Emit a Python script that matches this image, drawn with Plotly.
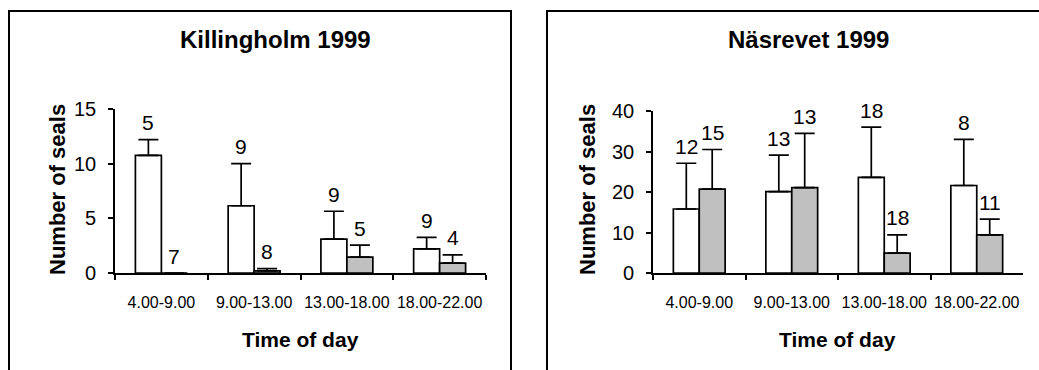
import plotly.graph_objects as go

# ---------------- data ----------------
categories = ["4.00-9.00", "9.00-13.00", "13.00-18.00", "18.00-22.00"]

kill_white = [10.75, 6.15, 3.1, 2.2]
kill_white_err = [1.45, 3.85, 2.55, 1.05]
kill_gray = [0.0, 0.2, 1.45, 0.9]
kill_gray_err = [0.0, 0.2, 1.1, 0.75]
kill_white_n = [5, 9, 9, 9]
kill_gray_n = [7, 8, 5, 4]

nas_white = [15.8, 20.1, 23.6, 21.6]
nas_white_err = [11.3, 9.0, 12.4, 11.4]
nas_gray = [20.7, 21.1, 4.9, 9.4]
nas_gray_err = [9.8, 13.4, 4.5, 3.9]
nas_white_n = [12, 13, 18, 8]
nas_gray_n = [15, 13, 18, 11]

titles = ["Killingholm 1999", "Näsrevet 1999"]
y_title = "Number of seals"
x_title = "Time of day"

# ---------------- layout helpers ----------------
W, H = 1039, 370
FONT = "Arial, Liberation Sans, sans-serif"
GRAY = "#c0c0c0"


def px(x):
    return x / W


def py(y):
    return 1 - y / H


BARGAP = 0.44
HALF = (1 - BARGAP) / 4  # offset of each bar centre from category centre

fig = go.Figure()

panels = [
    dict(xa="x", ya="y", white=kill_white, werr=kill_white_err, gray=kill_gray,
         gerr=kill_gray_err, wn=kill_white_n, gn=kill_gray_n),
    dict(xa="x2", ya="y2", white=nas_white, werr=nas_white_err, gray=nas_gray,
         gerr=nas_gray_err, wn=nas_white_n, gn=nas_gray_n),
]

annotations = []
for p in panels:
    for vals, errs, color in ((p["white"], p["werr"], "white"), (p["gray"], p["gerr"], GRAY)):
        fig.add_trace(go.Bar(
            x=categories, y=vals, xaxis=p["xa"], yaxis=p["ya"],
            marker=dict(color=color, line=dict(color="black", width=1.7)),
            error_y=dict(type="data", symmetric=False, array=errs,
                         arrayminus=[0] * len(errs), color="black",
                         thickness=1.7, width=10),
            showlegend=False,
        ))
    for i in range(len(categories)):
        for vals, errs, ns, off in ((p["white"], p["werr"], p["wn"], -HALF),
                                    (p["gray"], p["gerr"], p["gn"], HALF)):
            annotations.append(dict(
                x=i + off, y=vals[i] + errs[i], xref=p["xa"], yref=p["ya"],
                text=str(ns[i]), showarrow=False, yanchor="middle", yshift=17,
                font=dict(size=21, color="black", family=FONT),
            ))

# titles
for cx, t in ((275, titles[0]), (808, titles[1])):
    annotations.append(dict(x=px(cx), y=py(39), xref="paper", yref="paper",
                            text="<b>%s</b>" % t, showarrow=False,
                            xanchor="center", yanchor="middle",
                            font=dict(size=24, color="black", family=FONT)))
for cx in (57, 587):
    annotations.append(dict(x=px(cx), y=py(190), xref="paper", yref="paper",
                            text="<b>%s</b>" % y_title, showarrow=False, textangle=-90,
                            xanchor="center", yanchor="middle",
                            font=dict(size=22, color="black", family=FONT)))
for cx in (300, 837):
    annotations.append(dict(x=px(cx), y=py(339), xref="paper", yref="paper",
                            text="<b>%s</b>" % x_title, showarrow=False,
                            xanchor="center", yanchor="middle",
                            font=dict(size=21, color="black", family=FONT)))

xcommon = dict(type="category", tickson="boundaries", ticks="outside", ticklen=5,
               tickwidth=1.7, tickcolor="black", showline=True, linecolor="black",
               linewidth=1.7, showgrid=False, range=[-0.5, 3.5], automargin=False,
               tickangle=0, tickfont=dict(size=16, color="black", family=FONT),
               ticklabelstandoff=14, fixedrange=True)
ycommon = dict(ticks="outside", ticklen=5, tickwidth=1.7, tickcolor="black",
               showline=True, linecolor="black", linewidth=1.7, showgrid=False,
               zeroline=False, tickfont=dict(size=20, color="black", family=FONT),
               ticklabelstandoff=8, automargin=False, fixedrange=True)

shapes = [
    dict(type="rect", xref="paper", yref="paper", x0=px(9), x1=px(511),
         y0=-0.2, y1=py(11), line=dict(color="black", width=2)),
    dict(type="rect", xref="paper", yref="paper", x0=px(547), x1=1.1,
         y0=-0.2, y1=py(11), line=dict(color="black", width=2)),
]

fig.update_layout(
    width=W, height=H, margin=dict(l=0, r=0, t=0, b=0, pad=0, autoexpand=False),
    paper_bgcolor="white", plot_bgcolor="white",
    barmode="group", bargap=BARGAP, bargroupgap=0,
    font=dict(family=FONT, color="black"),
    xaxis=dict(domain=[px(115), px(486)], anchor="y", **xcommon),
    yaxis=dict(domain=[py(273), py(109)], anchor="x", range=[0, 15], dtick=5, **ycommon),
    xaxis2=dict(domain=[px(653), px(1023)], anchor="y2", **xcommon),
    yaxis2=dict(domain=[py(273), py(111)], anchor="x2", range=[0, 40], dtick=10, **ycommon),
    annotations=annotations,
    shapes=shapes,
)

fig.write_html(
    "out.html",
    config={"displayModeBar": False},
    post_script="document.body.style.margin='0';document.body.style.overflow='hidden';",
)
